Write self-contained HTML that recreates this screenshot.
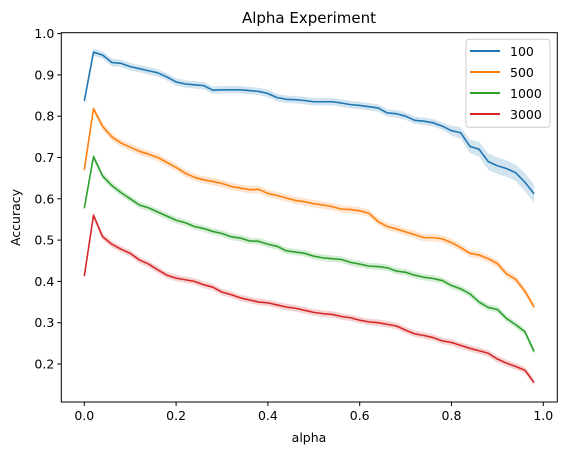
<!DOCTYPE html>
<html><head><meta charset="utf-8"><style>
html,body{margin:0;padding:0;background:#fff;}
svg{display:block;font-family:"DejaVu Sans","Liberation Sans",sans-serif;}
</style></head><body>
<svg id="chart" width="567" height="455" viewBox="0 0 567 455">
<text x="309" y="23" font-size="15" text-anchor="middle" fill="#000">Alpha Experiment</text>
<g id="bands"></g><g id="lines"></g><g id="axes"></g>
<text x="309" y="442" font-size="12.5" text-anchor="middle">alpha</text>
<text transform="translate(20,217.5) rotate(-90)" font-size="12.5" text-anchor="middle">Accuracy</text>
<g id="legend"></g>
</svg>
<script>
const seriesNames = ["100","500","1000","3000"];
const colors = ["#1f77b4","#ff7f0e","#2ca02c","#d62728"];
const xTicks = [0.0,0.2,0.4,0.6,0.8,1.0];
const yTicks = [0.2,0.3,0.4,0.5,0.6,0.7,0.8,0.9,1.0];
const alphaStep = 0.02;
const blue = [0.837,0.955,0.948,0.930,0.928,0.920,0.915,0.910,0.905,0.895,0.883,0.878,0.876,0.874,0.863,0.864,0.864,0.864,0.862,0.860,0.855,0.845,0.841,0.840,0.838,0.835,0.835,0.835,0.832,0.828,0.826,0.823,0.820,0.808,0.806,0.800,0.790,0.788,0.784,0.776,0.765,0.760,0.727,0.720,0.690,0.680,0.673,0.663,0.640,0.612];
const orange = [0.670,0.818,0.775,0.750,0.735,0.725,0.715,0.708,0.700,0.688,0.676,0.662,0.652,0.646,0.642,0.637,0.630,0.626,0.622,0.623,0.613,0.608,0.602,0.596,0.593,0.588,0.585,0.581,0.575,0.574,0.571,0.565,0.545,0.533,0.527,0.520,0.513,0.506,0.506,0.503,0.494,0.482,0.468,0.464,0.455,0.443,0.418,0.405,0.376,0.338];
const green = [0.577,0.702,0.655,0.632,0.615,0.600,0.585,0.578,0.568,0.558,0.548,0.542,0.533,0.528,0.521,0.516,0.508,0.505,0.498,0.497,0.490,0.485,0.474,0.471,0.468,0.461,0.457,0.455,0.453,0.446,0.442,0.437,0.436,0.433,0.425,0.422,0.415,0.410,0.407,0.402,0.390,0.382,0.370,0.350,0.337,0.332,0.310,0.295,0.278,0.230];
const red = [0.413,0.560,0.508,0.490,0.478,0.468,0.452,0.442,0.428,0.415,0.408,0.404,0.400,0.392,0.386,0.374,0.368,0.360,0.355,0.350,0.348,0.343,0.338,0.335,0.330,0.325,0.322,0.320,0.315,0.312,0.306,0.302,0.300,0.296,0.292,0.282,0.273,0.269,0.264,0.256,0.252,0.245,0.238,0.232,0.226,0.212,0.202,0.194,0.185,0.155];
const bandHalf = [0.009,0.009,0.008,0.008];
const blueTailBand = [0.012,0.014,0.016,0.018,0.02,0.02,0.02,0.02,0.022,0.022];

const NS="http://www.w3.org/2000/svg";
const L=61.3,R=557.3,T=32.7,B=402;
const xs=v=>84.3+v*(543.3-84.3);
const ys=v=>364-(v-0.2)*413;
function mk(tag,attrs,parent){const e=document.createElementNS(NS,tag);for(const k in attrs)e.setAttribute(k,attrs[k]);parent.appendChild(e);return e;}
const all=[blue,orange,green,red];
const gB=document.getElementById('bands'),gL=document.getElementById('lines'),gA=document.getElementById('axes'),gLeg=document.getElementById('legend');
all.forEach((d,si)=>{
  const n=d.length;
  const hw=i=>(si===0&&i>=n-blueTailBand.length)?blueTailBand[i-(n-blueTailBand.length)]:bandHalf[si];
  let up=[],dn=[],pts=[];
  d.forEach((v,i)=>{const x=xs(i*alphaStep);up.push(x.toFixed(2)+','+ys(v+hw(i)).toFixed(2));dn.unshift(x.toFixed(2)+','+ys(v-hw(i)).toFixed(2));pts.push(x.toFixed(2)+','+ys(v).toFixed(2));});
  const band=mk('polygon',{points:up.concat(dn).join(' '),fill:colors[si],'fill-opacity':0.2,stroke:'none'},gB);
  
  
  const line=mk('polyline',{points:pts.join(' '),fill:'none',stroke:colors[si],'stroke-width':1.6,'stroke-linejoin':'round'},gL);
  
  
});
const frame=mk('rect',{x:L,y:T,width:R-L,height:B-T,fill:'none',stroke:'#000','stroke-width':1},gA);


xTicks.forEach(t=>{const x=xs(t);
  mk('line',{x1:x,x2:x,y1:B,y2:B+4,stroke:'#000','stroke-width':1},gA);
  const tx=mk('text',{x:x,y:B+18,'font-size':12.5,'text-anchor':'middle'},gA);tx.textContent=t.toFixed(1);
  
  
});
yTicks.forEach(t=>{const y=ys(t);
  mk('line',{x1:L-4,x2:L,y1:y,y2:y,stroke:'#000','stroke-width':1},gA);
  const tx=mk('text',{x:L-7,y:y+4.5,'font-size':12.5,'text-anchor':'end'},gA);tx.textContent=t.toFixed(1);
  
  
});
const box=mk('rect',{x:466,y:39.3,width:84,height:88,rx:3,fill:'#fff','fill-opacity':0.8,stroke:'#ccc','stroke-width':1},gLeg);


seriesNames.forEach((s,i)=>{const y=51+i*21;
  const ln=mk('line',{x1:470,x2:500,y1:y,y2:y,stroke:colors[i],'stroke-width':2},gLeg);
  
  
  const tx=mk('text',{x:510,y:y+5,'font-size':12.5},gLeg);tx.textContent=s;
  
  
});
</script>
</body></html>
